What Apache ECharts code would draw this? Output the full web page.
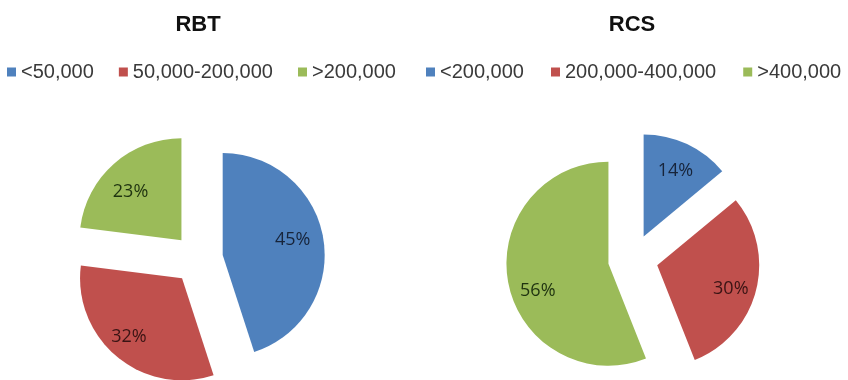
<!DOCTYPE html>
<html>
<head>
<meta charset="utf-8">
<script src="https://cdn.jsdelivr.net/npm/echarts@6/dist/echarts.min.js"></script>
<style>
  html, body { margin: 0; padding: 0; background: #fff; }
  #main { width: 848px; height: 380px; }
</style>
</head>
<body>
<div id="main"></div>
<script>
var chart = echarts.init(document.getElementById('main'));

// RBT
var rbtNames = ['<50,000', '50,000-200,000', '>200,000'];
var rbtValues = [45, 32, 23];
// RCS
var rcsNames = ['<200,000', '200,000-400,000', '>400,000'];
var rcsValues = [14, 30, 56];

var colors = ['#4F81BD', '#C0504D', '#9BBB59'];
var labelColors = ['#17243a', '#3a1414', '#1f3310'];
// small text nudges so labels sit where Excel put them
var rbtLabelNudge = [[-6, -3], [-4, -1], [0, 9]];
var rcsLabelNudge = [[-1, 4], [-1, 5], [5, 13]];

// pie ignores label.offset for inside labels: shift x with uneven padding,
// shift y with an empty spacer line above or below the text
function nudgeLabel(label, d) {
  var dx = d[0], dy = d[1];
  label.padding = [0, Math.max(-2 * dx, 0), 0, Math.max(2 * dx, 0)];
  if (dy !== 0) {
    var h = 2 * Math.abs(dy);
    label.rich = {
      gap: { height: h, lineHeight: h, fontSize: 1 },
      t: { lineHeight: 20 }
    };
    label.formatter = function (p) {
      var txt = '{t|' + Math.round(p.percent) + '%}';
      return dy > 0 ? '{gap|}\n' + txt : txt + '\n{gap|}';
    };
  }
}

function buildData(names, values, overlay, nudge) {
  return names.map(function (n, i) {
    var item = {
      name: n,
      value: values[i],
      selected: true,
      itemStyle: { color: overlay ? 'rgba(0,0,0,0)' : colors[i] },
      label: { color: labelColors[i] }
    };
    if (nudge) nudgeLabel(item.label, nudge[i]);
    return item;
  });
}

function pieSeries(name, names, values, center, nudge) {
  return [
    {
      name: name,
      type: 'pie',
      center: center,
      radius: 102,
      startAngle: 90,
      clockwise: true,
      selectedMode: 'multiple',
      selectedOffset: 25,
      label: { show: false },
      labelLine: { show: false },
      emphasis: { disabled: true },
      animation: false,
      data: buildData(names, values, false)
    },
    {
      // transparent copy, only used to place the % labels further out
      name: name + '-labels',
      type: 'pie',
      center: center,
      radius: 148,
      startAngle: 90,
      clockwise: true,
      selectedMode: 'multiple',
      selectedOffset: 25,
      silent: true,
      label: {
        show: true,
        position: 'inside',
        fontFamily: 'Open Sans',
        fontSize: 18,
        formatter: function (p) { return Math.round(p.percent) + '%'; }
      },
      labelLine: { show: false },
      emphasis: { disabled: true },
      animation: false,
      data: buildData(names, values, true, nudge)
    }
  ];
}

var option = {
  backgroundColor: '#fff',
  animation: false,
  title: [
    {
      text: 'RBT', left: 198, top: 14, textAlign: 'center', padding: 0,
      textStyle: { fontFamily: 'Liberation Sans', fontWeight: 'bold', fontSize: 22, color: '#111' }
    },
    {
      text: 'RCS', left: 632, top: 14, textAlign: 'center', padding: 0,
      textStyle: { fontFamily: 'Liberation Sans', fontWeight: 'bold', fontSize: 22, color: '#111' }
    }
  ],
  legend: [
    {
      data: rbtNames,
      left: 7, top: 62, padding: 0,
      icon: 'rect', itemWidth: 9, itemHeight: 9, itemGap: 25,
      selectedMode: false,
      textStyle: { fontFamily: 'Liberation Sans', fontSize: 20, color: '#3a3a3a' }
    },
    {
      data: rcsNames,
      left: 426, top: 62, padding: 0,
      icon: 'rect', itemWidth: 9, itemHeight: 9, itemGap: 27,
      selectedMode: false,
      textStyle: { fontFamily: 'Liberation Sans', fontSize: 20, color: '#3a3a3a' }
    }
  ],
  series: pieSeries('RBT', rbtNames, rbtValues, [198, 259], rbtLabelNudge)
    .concat(pieSeries('RCS', rcsNames, rcsValues, [633, 259], rcsLabelNudge))
};

chart.setOption(option);
</script>
</body>
</html>
